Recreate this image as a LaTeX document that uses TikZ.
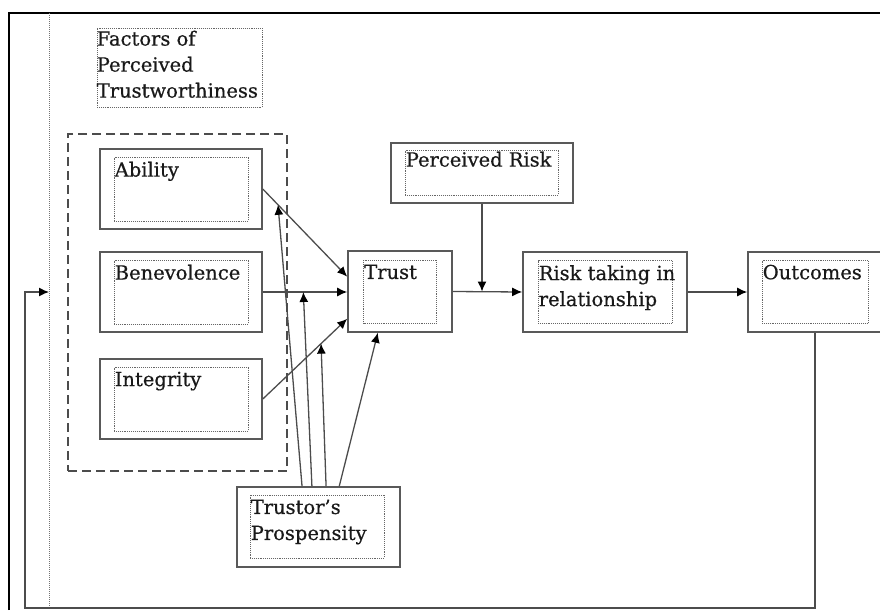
\documentclass[tikz,border=0pt]{standalone}
\usepackage{fontspec}
\setmainfont{DejaVu Serif}
\newfontfamily\boxfont{DejaVu Serif}[FakeBold=0.6]
\usetikzlibrary{positioning,arrows.meta,calc}

\tikzset{
  outerbox/.style={draw=black!65,line width=1.6pt,inner sep=0pt},
  innerbox/.style={draw=black!60,densely dotted,line width=0.9pt,inner sep=0pt},
  boxtext/.style={anchor=north west,inner xsep=1pt,inner ysep=5pt,align=left,
    font=\boxfont\fontsize{19.5}{26}\selectfont,text=black!90},
  link/.style={draw=black!70,line width=1.3pt,-{Latex[length=10pt,width=9pt,color=black]}}
}

\begin{document}
\begin{tikzpicture}[x=1pt,y=-1pt]
  \useasboundingbox (0,0) rectangle (880,610);
  % frame and divider
  \draw[line width=1.5pt] (9,610) -- (9,13) -- (880,13);
  \coordinate (divtop) at (49,13);
  \coordinate (divbot) at (49,608);
  \coordinate (loopcorner) at (25,608);
  \draw[densely dotted,draw=black!55,line width=1pt] (divtop) -- (divbot);

  % title of the group
  \node[innerbox,minimum width=165pt,minimum height=79pt] (factors) at (179.5,67.5) {};
  \node[boxtext,inner xsep=0pt,inner ysep=3pt] at (factors.north west) {Factors of\\Perceived\\Trustworthiness};
  \node[draw=black!70,dash pattern=on 9pt off 5pt,line width=1.3pt,minimum width=219pt,minimum height=337pt] (group) at (177.5,302.5) {};

  % factors
  \node[outerbox,minimum width=162pt,minimum height=80pt] (ability) at (181,189) {};
  \node[innerbox,minimum width=134pt,minimum height=64pt] (abilityin) at (ability) {};
  \node[boxtext] at (abilityin.north west) {Ability};
  \node[outerbox,minimum width=162pt,minimum height=80pt] (benevolence) at (181,292) {};
  \node[innerbox,minimum width=134pt,minimum height=64pt] (benevolencein) at (benevolence) {};
  \node[boxtext] at (benevolencein.north west) {Benevolence};
  \node[outerbox,minimum width=162pt,minimum height=80pt] (integrity) at (181,399) {};
  \node[innerbox,minimum width=134pt,minimum height=64pt] (integrityin) at (integrity) {};
  \node[boxtext] at (integrityin.north west) {Integrity};

  % main chain
  \node[outerbox,minimum width=104pt,minimum height=81pt] (trust) at (400,291.5) {};
  \node[innerbox,minimum width=73pt,minimum height=63pt] (trustin) at (trust) {};
  \node[boxtext] at (trustin.north west) {Trust};
  \node[outerbox,minimum width=182pt,minimum height=60pt] (prisk) at (482,173) {};
  \node[innerbox,minimum width=153pt,minimum height=45pt] (priskin) at (481.5,172.5) {};
  \node[boxtext,inner ysep=2pt] at (priskin.north west) {Perceived Risk};
  \node[outerbox,minimum width=164pt,minimum height=80pt] (risk) at (605,292) {};
  \node[innerbox,minimum width=134pt,minimum height=63pt] (riskin) at (risk) {};
  \node[boxtext] at (riskin.north west) {Risk taking in\\relationship};
  \node[outerbox,minimum width=134pt,minimum height=80pt] (outcomes) at (815,292) {};
  \node[innerbox,minimum width=106pt,minimum height=63pt] (outcomesin) at (815,291.5) {};
  \node[boxtext] at (outcomesin.north west) {Outcomes};
  \node[outerbox,minimum width=163pt,minimum height=80pt] (trustor) at (318.5,527) {};
  \node[innerbox,minimum width=134pt,minimum height=63pt] (trustorin) at (317,526.5) {};
  \node[boxtext] at (trustorin.north west) {Trustor’s\\Prospensity};

  % links into trust
  \draw[link] (ability.east) -- coordinate[pos=0.18] (onab) ($(trust.north west)!0.32!(trust.south west)$);
  \draw[link] (benevolence.east) -- coordinate[pos=0.48] (onbe) (benevolence.east -| trust.west);
  \draw[link] (integrity.east) -- coordinate[pos=0.69] (onin) ($(trust.north west)!0.83!(trust.south west)$);
  \draw[link] ($(trustor.north west)!0.40!(trustor.north east)$) -- (onab);
  \draw[link] ($(trustor.north west)!0.46!(trustor.north east)$) -- (onbe);
  \draw[link] ($(trustor.north west)!0.546!(trustor.north east)$) -- (onin);
  \draw[link] ($(trustor.north west)!0.626!(trustor.north east)$) -- ($(trust.south west)!0.29!(trust.south east)$);

  % chain and feedback
  \draw[link] (trust.east) -- (risk.west);
  \draw[link] (prisk.south) -- (prisk.south |- trust.east);
  \draw[link] (risk.east) -- (outcomes.west);
  \draw[link] (outcomes.south) |- (loopcorner) -- (loopcorner |- benevolence.east) -- (divtop |- benevolence.east);
\end{tikzpicture}
\end{document}
